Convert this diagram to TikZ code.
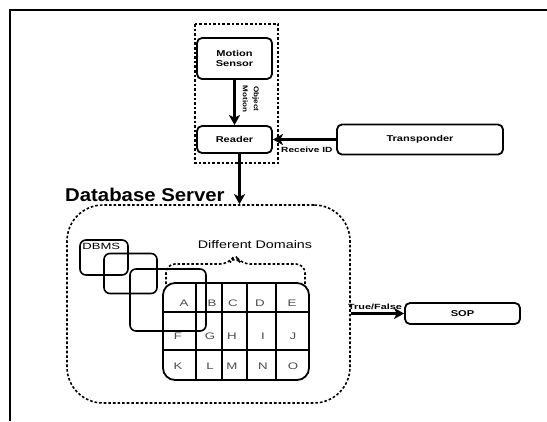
\documentclass[tikz,border=0pt]{standalone}
\usepackage{fontspec}
\usepackage{graphicx}
\setmainfont{Liberation Sans}
\usetikzlibrary{arrows.meta}
% horizontally stretched text
\newcommand{\wide}[2]{\scalebox{#1}[1]{#2}}
\begin{document}
\begin{tikzpicture}[x=1pt,y=-1pt,
  box/.style={draw,line width=1.8pt,rounded corners=5pt,inner sep=0pt,
    font=\bfseries\fontsize{8.5}{9.5}\selectfont,align=center},
  flow/.style={line width=2.8pt,-{Stealth[length=10pt,width=11pt,inset=2.5pt]}},
  dashline/.style={line width=1.6pt,dash pattern=on 2.6pt off 2pt},
  dbmsbox/.style={draw,line width=1.6pt,rounded corners=6pt,inner sep=0pt},
  cell/.style={inner sep=0pt,text=black!70,font=\fontsize{9.5}{10}\selectfont},
  smalllbl/.style={inner sep=0pt,font=\bfseries\fontsize{7.5}{8}\selectfont}]
\useasboundingbox (0,0) rectangle (547,421);

% page frame (top and left edges)
\draw[line width=1.3pt] (10,421) -- (10,10) -- (547,10);

% sensing unit
\draw[dashline] (195,24) rectangle (278,163);
\node[box,minimum width=75pt,minimum height=41pt] (ms) at (234.5,58.5)
  {\wide{1.3}{Motion}\\\wide{1.3}{Sensor}};
\node[box,minimum width=75pt,minimum height=27pt] (reader) at (234.5,139.5)
  {\wide{1.3}{Reader}};
\node[box,minimum width=166pt,minimum height=30pt] (trans) at (420,139.5)
  {\wide{1.3}{Transponder}};

\draw[flow] (ms.south) -- (reader.north);
\node[rotate=-90,inner sep=0pt,align=center,
  font=\bfseries\fontsize{7}{11}\selectfont] (objlbl) at (251,99)
  {\wide{1.15}{Object}\\\wide{1.15}{Motion}};
\draw[flow] (trans.west) -- (reader.east);
\node[smalllbl,anchor=west] (rid) at (281,150) {\wide{1.35}{Receive ID}};

% database server
\node[draw,dashline,rounded corners=36pt,minimum width=283pt,minimum height=198pt]
  (db) at (208.5,304) {};
\node[anchor=base west,inner sep=0pt,font=\bfseries\fontsize{18.5}{20}\selectfont]
  (dblbl) at (65,201.5) {\wide{1.1}{Database Server}};
\draw[flow] ([xshift=5pt]reader.south) -- ([xshift=5pt]reader.south |- db.north);

% DBMS instances
\node[dbmsbox,minimum width=48pt,minimum height=35pt] (d1) at (104,257.5) {};
\node[dbmsbox,minimum width=53pt,minimum height=40pt] (d2) at (130.5,273.5) {};
\node[dbmsbox,minimum width=76pt,minimum height=62pt] (d3) at (168,300) {};
\node[anchor=north west,inner sep=0pt,font=\fontsize{9}{10}\selectfont]
  (dbmslbl) at ([xshift=3pt,yshift=-4pt]d1.north west) {\wide{1.45}{DBMS}};

% domain grid
\node[draw,line width=1.8pt,rounded corners=12pt,minimum width=146pt,
  minimum height=97pt,inner sep=0pt] (grid) at (236,331.5) {};
\foreach \gx in {196,222,247,276}
  \draw[line width=2pt] (\gx,0 |- grid.north) -- (\gx,0 |- grid.south);
\foreach \gy in {312,350}
  \draw[line width=2pt] (grid.west |- 0,\gy) -- (grid.east |- 0,\gy);
\foreach \t/\cx/\cy in {A/184/303,B/212/303,C/233/303,D/260/303,E/292/303,
  F/178/336,G/210/336,H/232/336,I/263/336,J/293/336,
  K/178/366,L/210/366,M/232/366,N/263/366,O/293/366}
  \node[cell] (c\t) at (\cx,\cy) {\wide{1.4}{\t}};

% domain brace
\node[inner sep=0pt,font=\fontsize{11}{12}\selectfont] (domlbl) at (255,245)
  {\wide{1.3}{Different Domains}};
\draw[dashline,rounded corners=9pt] (166,284) -- (166,264) -- (229,264)
  -- (235,255) -- (241,264) -- (305,264) -- (305,284);

% service output
\node[box,minimum width=115pt,minimum height=21pt] (sop) at (462.5,313.5)
  {\wide{1.3}{SOP}};
\draw[flow] (db.east |- sop.west) -- (sop.west);
\node[smalllbl,anchor=base west] (tf) at (348,309) {\wide{1.45}{True/False}};
\end{tikzpicture}
\end{document}
